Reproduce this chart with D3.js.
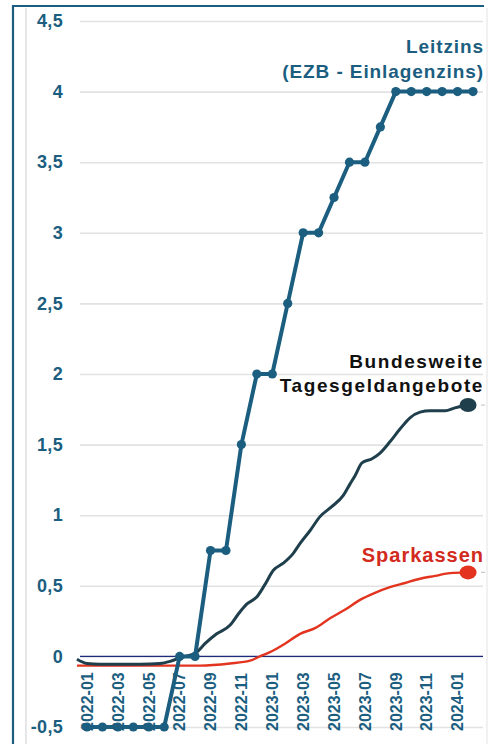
<!DOCTYPE html>
<html>
<head>
<meta charset="utf-8">
<script src="https://cdn.jsdelivr.net/npm/d3@7"></script>
<style>
  html, body { margin: 0; padding: 0; background: #fff; }
  svg { display: block; }
  text { font-family: "Liberation Sans", Arial, sans-serif; font-weight: 700; }
</style>
</head>
<body>
<svg id="chart" width="489" height="744"></svg>
<script>
// ---- Data ----
const monthLabels = ["2022-01","2022-02","2022-03","2022-04","2022-05","2022-06","2022-07","2022-08","2022-09","2022-10","2022-11","2022-12",
  "2023-01","2023-02","2023-03","2023-04","2023-05","2023-06","2023-07","2023-08","2023-09","2023-10","2023-11","2023-12","2024-01","2024-02"];
const xTickLabels = ["2022-01","2022-03","2022-05","2022-07","2022-09","2022-11","2023-01","2023-03","2023-05","2023-07","2023-09","2023-11","2024-01"];
const yTicks = [-0.5, 0, 0.5, 1, 1.5, 2, 2.5, 3, 3.5, 4, 4.5];

// Leitzins (EZB-Einlagenzins), monthly
const leitzins = [-0.5,-0.5,-0.5,-0.5,-0.5,-0.5, 0, 0, 0.75, 0.75, 1.5, 2.0,
  2.0, 2.5, 3.0, 3.0, 3.25, 3.5, 3.5, 3.75, 4, 4, 4, 4, 4, 4];

// Bundesweite Tagesgeldangebote (position in months since 2022-01, value)
const tagesMonth = [-0.65,0,0.84,2.14,3.43,4.73,5.38,6.02,7.1,7.64,8.4,9.26,9.8,10.34,10.99,11.53,12.07,12.71,13.36,13.8,14.44,15.09,15.85,16.6,17.03,17.36,17.81,18.46,18.98,19.62,20.27,20.92,21.57,22.22,23.19,23.83,24.68];
const tagesVal   = [-0.02,-0.05,-0.055,-0.055,-0.055,-0.05,-0.035,-0.01,0.03,0.09,0.16,0.22,0.30,0.37,0.42,0.51,0.61,0.66,0.73,0.80,0.89,0.99,1.06,1.14,1.22,1.28,1.37,1.40,1.44,1.52,1.61,1.69,1.73,1.74,1.74,1.76,1.78];

// Sparkassen
const sparMonth = [-0.65,0.84,4.08,7.32,9.26,10.56,11.2,11.85,12.82,13.8,14.77,15.74,16.7,17.68,18.65,19.62,20.6,21.57,22.54,23.51,24.68];
const sparVal   = [-0.065,-0.065,-0.065,-0.065,-0.05,-0.03,0.0,0.03,0.09,0.16,0.2,0.27,0.33,0.40,0.45,0.49,0.52,0.55,0.57,0.59,0.595];

// ---- Styles ----
const cBlue = "#1b5e80", cDark = "#1f3f4c", cRed = "#e2341f", cRedText = "#d22a1c";

const svg = d3.select("#chart");
const x = d3.scaleLinear().domain([0, 25]).range([87, 473]);
const y = d3.scaleLinear().domain([-0.5, 4.5]).range([727, 21]);
const gridX0 = 80, gridX1 = 483;

// frame
svg.append("line").attr("x1", 26).attr("x2", 26).attr("y1", 8).attr("y2", 744).attr("stroke", "#dedede").attr("stroke-width", 1.5);
svg.append("line").attr("x1", 487).attr("x2", 487).attr("y1", 8).attr("y2", 744).attr("stroke", "#ececec").attr("stroke-width", 1.5);
svg.append("line").attr("x1", 12).attr("x2", 484).attr("y1", 6).attr("y2", 6).attr("stroke", cBlue).attr("stroke-width", 2.2);
svg.append("line").attr("x1", 13).attr("x2", 13).attr("y1", 5).attr("y2", 744).attr("stroke", cBlue).attr("stroke-width", 2.2);

// y axis via d3.axisLeft
const fmt = v => (v === 0 ? "0" : String(v).replace(".", ","));
const yAxis = svg.append("g").attr("transform", `translate(${gridX0},0)`)
  .call(d3.axisLeft(y).tickValues(yTicks).tickFormat(fmt).tickSize(-(gridX1 - gridX0)).tickPadding(17));
yAxis.select(".domain").remove();
yAxis.selectAll(".tick line").attr("stroke", "#e2e2e2").attr("stroke-width", 1.6);
yAxis.selectAll(".tick text").attr("fill", cBlue).style("font-size", "18px").style("letter-spacing", "0.3px")
  .style("font-family", "Liberation Sans, Arial, sans-serif").style("font-weight", 700);

// zero line
svg.append("line").attr("x1", gridX0).attr("x2", gridX1).attr("y1", y(0)).attr("y2", y(0)).attr("stroke", "#1d2b7c").attr("stroke-width", 1.4);

// x labels (rotated, inside plot)
const xAxisG = svg.append("g");
xTickLabels.forEach(lbl => {
  const i = monthLabels.indexOf(lbl);
  xAxisG.append("text")
    .attr("transform", `translate(${x(i)},${y(-0.5) + 4}) rotate(-90)`)
    .attr("dy", "0.36em")
    .attr("text-anchor", "start")
    .attr("fill", cBlue)
    .style("font-size", "16px")
    .text(lbl);
});

// Sparkassen line
const lineSmooth = d3.line().x(d => x(d[0])).y(d => y(d[1])).curve(d3.curveMonotoneX);
const sparData = sparMonth.map((m, i) => [m, sparVal[i]]);
svg.append("path").datum(sparData).attr("d", lineSmooth).attr("fill", "none").attr("stroke", cRed).attr("stroke-width", 2.4);

// Tagesgeld line
const tagesData = tagesMonth.map((m, i) => [m, tagesVal[i]]);
svg.append("path").datum(tagesData).attr("d", lineSmooth).attr("fill", "none").attr("stroke", cDark).attr("stroke-width", 3);

// Leitzins line + dots
const leitData = leitzins.map((v, i) => [i, v]);
svg.append("path").datum(leitData)
  .attr("d", d3.line().x(d => x(d[0])).y(d => y(d[1])))
  .attr("fill", "none").attr("stroke", cBlue).attr("stroke-width", 4).attr("stroke-linejoin", "round");
svg.append("g").selectAll("circle").data(leitData).join("circle")
  .attr("cx", d => x(d[0])).attr("cy", d => y(d[1])).attr("r", 4.6).attr("fill", cBlue);

// end markers
const tEnd = tagesData[tagesData.length - 1], sEnd = sparData[sparData.length - 1];
svg.append("ellipse").attr("cx", x(tEnd[0])).attr("cy", y(tEnd[1])).attr("rx", 8.5).attr("ry", 7).attr("fill", cDark);
svg.append("ellipse").attr("cx", x(sEnd[0])).attr("cy", y(sEnd[1])).attr("rx", 8.5).attr("ry", 7).attr("fill", cRed);
[tEnd, sEnd].forEach(d => {
  svg.append("line").attr("x1", 481).attr("x2", 485).attr("y1", y(d[1])).attr("y2", y(d[1])).attr("stroke", "#c8c8c8").attr("stroke-width", 1.2);
});

// labels
function label(lines, yStart, color, size, ls, gap) {
  lines.forEach((t, i) => {
    svg.append("text").attr("x", 484).attr("y", yStart + i * gap)
      .attr("text-anchor", "end").attr("fill", color)
      .style("font-size", size + "px").style("letter-spacing", ls + "px").text(t);
  });
}
label(["Leitzins", "(EZB - Einlagenzins)"], 53, cBlue, 19, 0.9, 25);
label(["Bundesweite", "Tagesgeldangebote"], 368, "#111", 19, 1.6, 24);
label(["Sparkassen"], 562, cRedText, 20, 1, 0);
</script>
</body>
</html>
